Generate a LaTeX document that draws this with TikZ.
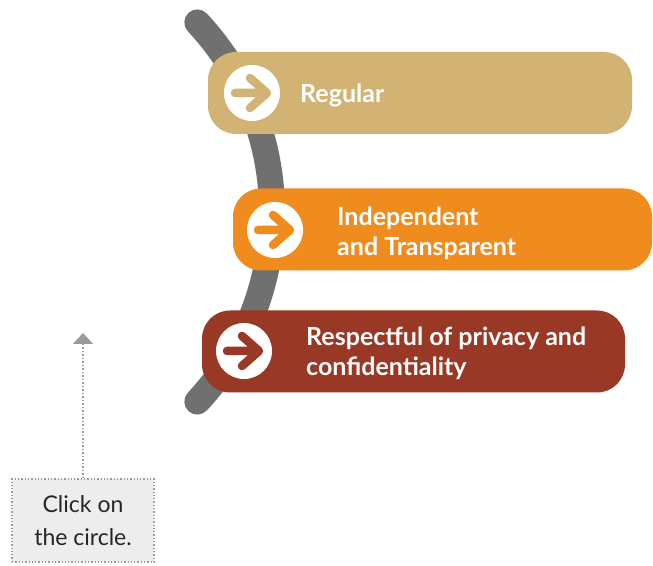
\documentclass[tikz,border=0pt]{standalone}
\usepackage{fontspec}
\setmainfont{Lato}
\usetikzlibrary{arrows.meta}
\definecolor{trackgray}{HTML}{707070}
\definecolor{sand}{HTML}{D3B373}
\definecolor{amber}{HTML}{F08B1D}
\definecolor{rust}{HTML}{993824}
\definecolor{hintgray}{HTML}{9A9A9A}

\begin{document}
\begin{tikzpicture}[x=1pt, y=1pt,
    pill/.style={rounded corners=28pt, minimum height=82pt, inner sep=0pt},
    iconcirc/.style={circle, fill=white, minimum size=56pt, inner sep=0pt},
    iconarrow/.style={line width=8.5pt, line cap=round, line join=round},
    pilltext/.style={text=white, align=left, inner sep=0pt, font=\bfseries\fontsize{25}{30}\selectfont},
    clickbox/.style={draw=hintgray, dotted, line width=1.3pt, fill=black!7, minimum width=142pt,
        minimum height=83pt, align=center, text=black!85, font=\fontsize{23}{33}\selectfont}]
        \useasboundingbox (0, 0) rectangle (653, 565);

        % the curved track behind the pills
        \draw [trackgray, line width=26pt, line cap=round] (-6, 353) ++(43:278) arc[start angle=43, end angle=-43, radius=278];

        % Regular
        \node [pill, fill=sand, minimum width=424pt] (regular) at (420, 472) {};
        \node [iconcirc] (regcirc) at (252, 472) {};
        \draw [iconarrow, sand, shift={(regcirc.center)}] (-17, 0) -- (13, 0) (-2, 15) -- (15, 0) -- (-2, -15);
        \node [pilltext, anchor=base west] (regtext) at (300, 462) {Regular};

        % Independent and Transparent
        \node [pill, fill=amber, minimum width=419pt] (indep) at (442.5, 335.5) {};
        \node [iconcirc] (indcirc) at (275, 335) {};
        \draw [iconarrow, amber, shift={(indcirc.center)}] (-17, 0) -- (13, 0) (-2, 15) -- (15, 0) -- (-2, -15);
        \node [pilltext, anchor=west] (indtext) at (337, 331.5) {Independent\\and Transparent};

        % Respectful of privacy and confidentiality
        \node [pill, fill=rust, minimum width=423pt] (resp) at (413.5, 213.5) {};
        \node [iconcirc] (respcirc) at (244, 214) {};
        \draw [iconarrow, rust, shift={(respcirc.center)}] (-17, 0) -- (13, 0) (-2, 15) -- (15, 0) -- (-2, -15);
        \node [pilltext, anchor=west] (resptext) at (306, 211.5) {Respectful of privacy and\\confidentiality};

        % hint box
        \node [clickbox] (click) at (83, 44.5) {Click on\\the circle.};
        \coordinate (hint) at (83, 232);
        \draw [hintgray, dotted, line width=1.5pt, -{Triangle[width=20pt, length=11pt]}] (click.north) -- (hint);
    \end{tikzpicture}
\end{document}
